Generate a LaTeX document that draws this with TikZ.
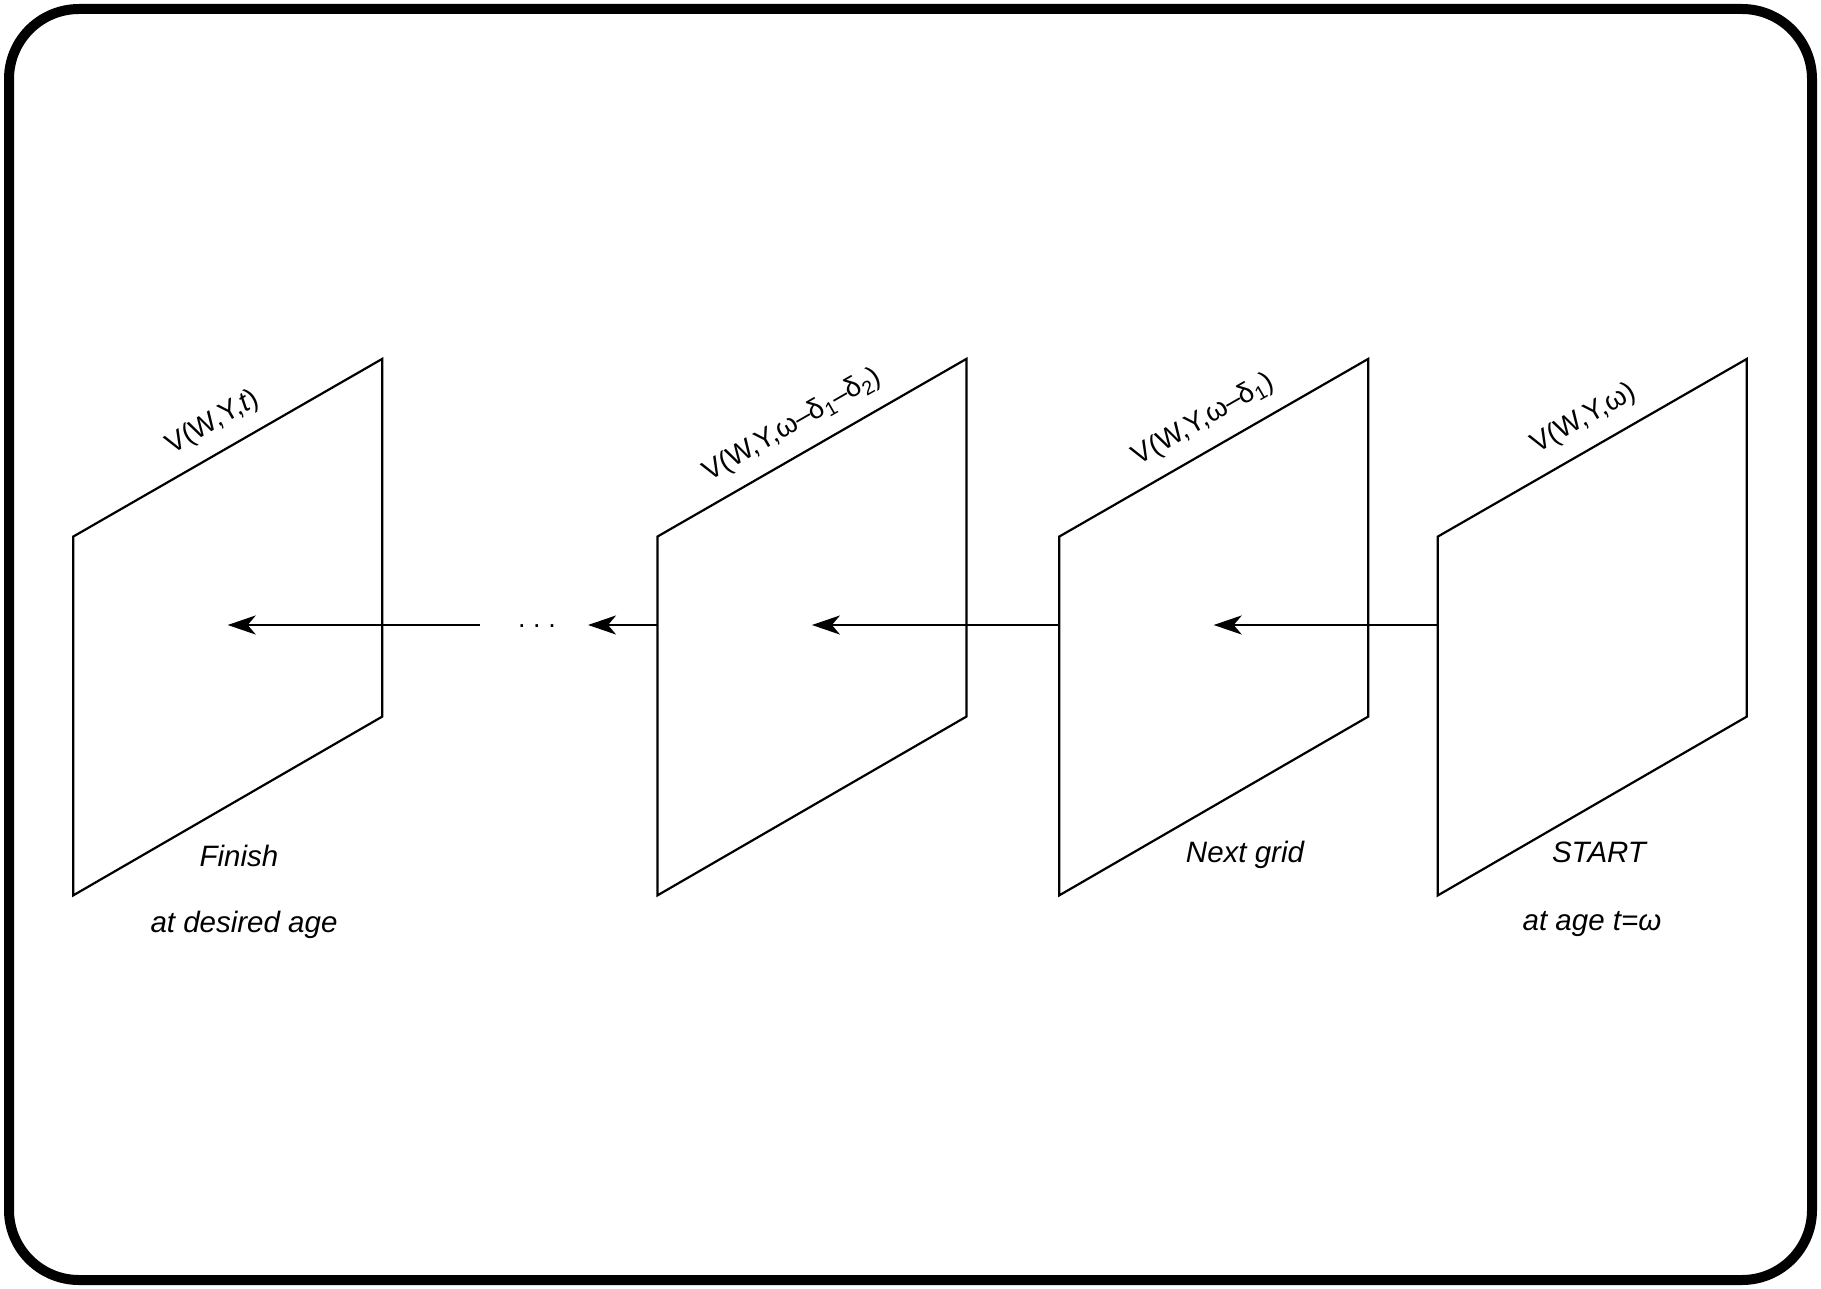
\documentclass[tikz,border=0pt]{standalone}
\usepackage{fontspec}
\setmainfont{Liberation Sans}
\usetikzlibrary{arrows.meta}
\begin{document}
\begin{tikzpicture}[x=1pt,y=-1pt,
  panel/.style={line width=2.2pt, line join=miter},
  flow/.style={line width=2.4pt, -{Stealth[length=28pt,width=19pt,inset=8pt]}},
  lbl/.style={font=\fontsize{29.5}{34}\selectfont\itshape, inner sep=0pt},
  gridtitle/.style={font=\fontsize{28}{33}\selectfont, inner sep=0pt, midway, sloped, above=16pt}]
\useasboundingbox (0,0) rectangle (1821,1289);
% outer frame
\draw[line width=10pt, rounded corners=70pt] (9,9) rectangle (1812,1280);

% the four value grids, drawn as slanted planes
\foreach \n/\xl in {p1/73.2, p2/657.4, p3/1059.2, p4/1437.8}{
  \coordinate (\n-bl) at (\xl,895.4);
  \coordinate (\n-tl) at (\xl,536.6);
  \coordinate (\n-tr) at (\xl+309,358.9);
  \coordinate (\n-br) at (\xl+309,716.6);
  \coordinate (\n-c)  at (\xl+154.5,625);
  \coordinate (\n-w)  at (\xl,625);
  \draw[panel] (\n-bl) -- (\n-tl) -- (\n-tr) -- (\n-br) -- cycle;
}

% grid titles along the top edges
\path (p1-tl) -- (p1-tr) node[gridtitle] (t1) {V(W,Y,\textit{t})};
\path (p2-tl) -- (p2-tr) node[gridtitle, xshift=-6pt] (t2) {V(W,Y,ω–δ\textsubscript{1}–δ\textsubscript{2})};
\path (p3-tl) -- (p3-tr) node[gridtitle, xshift=5pt] (t3) {V(W,Y,ω–δ\textsubscript{1})};
\path (p4-tl) -- (p4-tr) node[gridtitle, xshift=7pt] (t4) {V(W,Y,ω)};

% captions below the grids
\node[lbl] (fin)  at (239,856)   {Finish};
\node[lbl] (fin2) at (244,924.5) {at desired age};
\node[lbl] (nxt)  at (1245,855)  {Next grid};
\node[lbl] (st)   at (1599,852.5){START};
\node[lbl] (st2)  at (1592,924.5){at age t=ω};

% backward induction arrows
\node[font=\fontsize{27}{32}\selectfont, inner sep=0pt, anchor=base] (dots) at (537,627) {.\hspace{0.278em}.\hspace{0.278em}.};
\coordinate (a1) at (480,625);
\coordinate (a2) at (588,625);
\draw[flow] (a1) -- (p1-c);
\draw[flow] (p2-w) -- (a2);
\draw[flow] (p3-w) -- (p2-c);
\draw[flow] (p4-w) -- (p3-c);
\end{tikzpicture}
\end{document}
